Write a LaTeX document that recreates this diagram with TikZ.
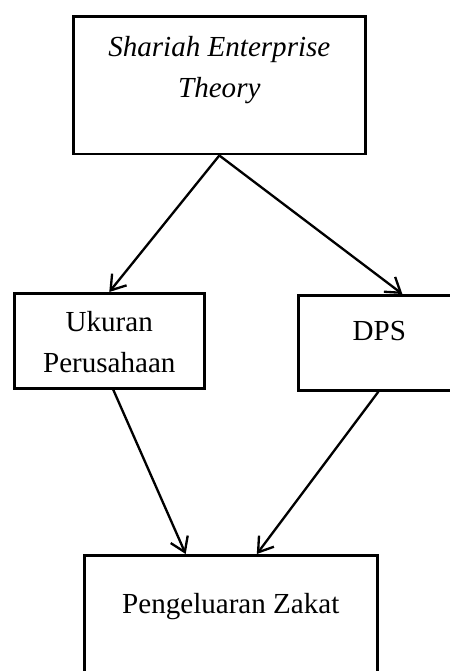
\documentclass[tikz,border=0pt]{standalone}
\usepackage{fontspec}
\setmainfont{Liberation Serif}
\usetikzlibrary{shapes, arrows.meta, positioning}
\tikzstyle{kotak} = [rectangle, draw, line width=1.1pt, anchor=north west, inner sep=0pt]
\tikzstyle{teks}  = [text centered, align=center, inner sep=0pt, font=\fontsize{12.5}{17.6}\selectfont]
\tikzstyle{panah} = [draw, line width=1pt, -{Straight Barb[length=6pt, width=8pt, line width=1pt]}]

\begin{document}
\begin{tikzpicture}[x=0.43pt, y=-0.43pt]
    \useasboundingbox (0,0) rectangle (449,671);
    \node[kotak, minimum width=125.6pt, minimum height=59.3pt](set) at (72,15){};
    \node[kotak, minimum width=81.7pt, minimum height=40.9pt](ukuran) at (13,292){};
    \node[kotak, minimum width=69.7pt, minimum height=40.9pt](dps) at (297,294){};
    \node[kotak, minimum width=126pt, minimum height=56pt](zakat) at (83,554){};
    \node[teks, below=9pt of set.north](setteks){\textit{Shariah Enterprise}\\\textit{Theory}};
    \node[teks, below=8.3pt of ukuran.north](ukuranteks){Ukuran\\Perusahaan};
    \node[teks, below=11.7pt of dps.north](dpsteks){DPS};
    \node[teks, below=16.5pt of zakat.north](zakatteks){Pengeluaran Zakat};
    \path[panah](set.south) -- (ukuran.north);
    \path[panah](set.south) -- ([xshift=9.9pt]dps.north);
    \path[panah]([xshift=1.7pt]ukuran.south) -- ([xshift=-19.4pt]zakat.north);
    \path[panah]([xshift=-0.4pt]dps.south) -- ([xshift=11.2pt]zakat.north);
\end{tikzpicture}
\end{document}
